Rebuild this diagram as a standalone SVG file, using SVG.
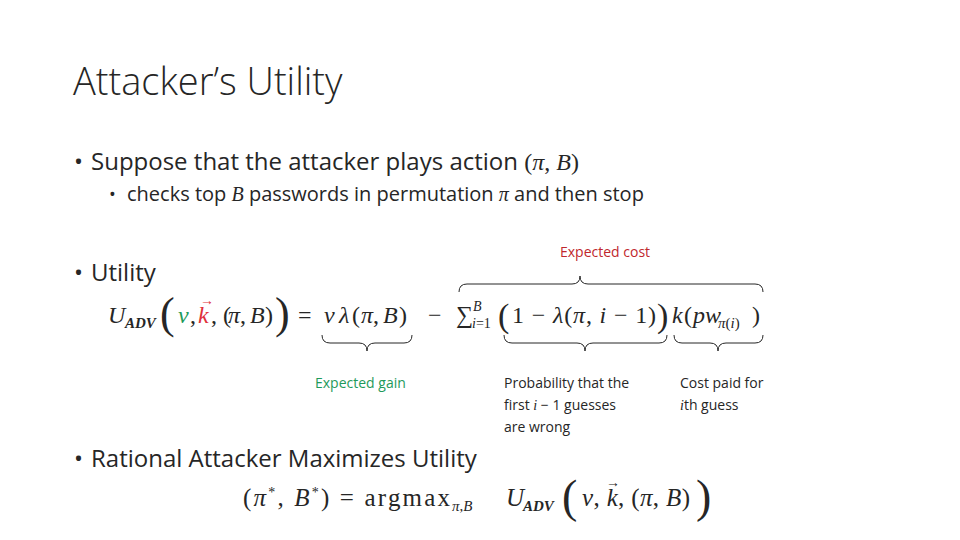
<svg xmlns="http://www.w3.org/2000/svg" width="960" height="540" viewBox="0 0 960 540">
<style>
.s{font-family:"Open Sans","Liberation Sans",sans-serif;fill:#262626}
.m{font-family:"Liberation Serif",serif;font-style:italic;fill:#262626}
.r{font-family:"Liberation Serif",serif;fill:#262626}
.b{fill:none;stroke:#262626;stroke-width:1}
.l{font-family:"Open Sans","Liberation Sans",sans-serif;font-size:14px;fill:#262626}
</style>
<rect width="960" height="540" fill="#fff"/>
<text class="s" x="73" y="95" style="font-size:38px;font-weight:300">Attacker’s Utility</text>
<text class="s" x="74" y="170" style="font-size:24px">•</text>
<text class="s" x="91" y="170" style="font-size:24px">Suppose that the attacker plays action <tspan class="r">(</tspan><tspan class="m">π</tspan><tspan class="r">, </tspan><tspan class="m">B</tspan><tspan class="r">)</tspan></text>
<text class="s" x="109" y="201" style="font-size:18px">•</text>
<text class="s" x="127" y="201" style="font-size:20px">checks top <tspan class="m">B</tspan> passwords in permutation <tspan class="m">π</tspan> and then stop</text>
<text class="s" x="74" y="281" style="font-size:24px">•</text>
<text class="s" x="91" y="281" style="font-size:24px">Utility</text>
<g style="font-size:24px">
<text class="m" x="108" y="323">U</text>
<text class="m" x="125" y="328" style="font-size:15px;font-weight:bold">ADV</text>
<text class="r" x="160" y="328" style="font-size:44px">(</text>
<text class="m" x="178" y="323" style="fill:#1e9a5a">v</text>
<text class="r" x="190" y="323">,</text>
<text class="m" x="198" y="323" style="fill:#e0303a">k</text>
<text class="r" x="200" y="305" style="font-size:14px;fill:#e0303a">→</text>
<text class="r" x="211" y="323">, (</text>
<text class="m" x="228" y="323">π</text>
<text class="r" x="240" y="323">,</text>
<text class="m" x="250" y="323">B</text>
<text class="r" x="265" y="323">)</text>
<text class="r" x="275" y="328" style="font-size:44px">)</text>
<text class="r" x="298" y="323">=</text>
<text class="m" x="324" y="323">v</text>
<text class="m" x="339" y="323">λ</text>
<text class="r" x="352" y="323">(</text>
<text class="m" x="361" y="323">π</text>
<text class="r" x="373" y="323">,</text>
<text class="m" x="383" y="323">B</text>
<text class="r" x="399" y="323">)</text>
<text class="r" x="428" y="323">−</text>
<text class="r" x="456" y="323">∑</text>
<text class="m" x="473" y="311" style="font-size:14px">B</text>
<text x="472" y="328"><tspan class="m" style="font-size:14px">i</tspan><tspan class="r" style="font-size:14px">=1</tspan></text>
<text class="r" x="498" y="327" style="font-size:34px">(</text>
<text x="512" y="323" textLength="144" lengthAdjust="spacing"><tspan class="r">1 − </tspan><tspan class="m">λ</tspan><tspan class="r">(</tspan><tspan class="m">π</tspan><tspan class="r">, </tspan><tspan class="m">i</tspan><tspan class="r"> − 1)</tspan></text>
<text class="r" x="657" y="327" style="font-size:34px">)</text>
<text class="m" x="672" y="323">k</text>
<text class="r" x="684" y="323">(</text>
<text class="m" x="693" y="323">pw</text>
<text x="718" y="328"><tspan class="m" style="font-size:15px">π</tspan><tspan class="r" style="font-size:15px">(</tspan><tspan class="m" style="font-size:15px">i</tspan><tspan class="r" style="font-size:15px">)</tspan></text>
<text class="r" x="752" y="323">)</text>
</g>
<path class="b" d="M459,292 Q459,284 467,284 L572,284 Q580,284 580,276 Q580,284 588,284 L755,284 Q763,284 763,292"/>
<path class="b" d="M322,335 Q322,343 330,343 L359,343 Q367,343 367,351 Q367,343 375,343 L404,343 Q412,343 412,335"/>
<path class="b" d="M504,335 Q504,343 512,343 L577,343 Q585,343 585,351 Q585,343 593,343 L659,343 Q667,343 667,335"/>
<path class="b" d="M674,335 Q674,343 682,343 L710,343 Q718,343 718,351 Q718,343 726,343 L755,343 Q763,343 763,335"/>
<text class="l" x="560" y="257" style="fill:#c0272d">Expected cost</text>
<text class="l" x="315" y="388" style="fill:#1e9a5a">Expected gain</text>
<text class="l" x="504" y="388">Probability that the</text>
<text class="l" x="504" y="410">first <tspan class="m">i</tspan> − 1 guesses</text>
<text class="l" x="504" y="432">are wrong</text>
<text class="l" x="680" y="388">Cost paid for</text>
<text class="l" x="680" y="410"><tspan class="m">i</tspan>th guess</text>
<text class="s" x="74" y="467" style="font-size:24px">•</text>
<text class="s" x="91" y="467" style="font-size:24px">Rational Attacker Maximizes Utility</text>
<g style="font-size:25px">
<text x="243" y="506" textLength="207" lengthAdjust="spacing"><tspan class="r">(</tspan><tspan class="m">π</tspan><tspan class="r" style="font-size:14px" dy="-9">*</tspan><tspan class="r" dy="9">, </tspan><tspan class="m">B</tspan><tspan class="r" style="font-size:14px" dy="-9">*</tspan><tspan class="r" dy="9">) = argmax</tspan></text>
<text x="452" y="511"><tspan class="m" style="font-size:15px">π</tspan><tspan class="r" style="font-size:15px">,</tspan><tspan class="m" style="font-size:15px">B</tspan></text>
<text class="m" x="506" y="506">U</text>
<text class="m" x="523" y="511" style="font-size:15px;font-weight:bold">ADV</text>
<text class="r" x="562" y="512" style="font-size:46px">(</text>
<text x="582" y="506" textLength="108" lengthAdjust="spacing"><tspan class="m">v</tspan><tspan class="r">, </tspan><tspan class="m">k</tspan><tspan class="r">, (</tspan><tspan class="m">π</tspan><tspan class="r">, </tspan><tspan class="m">B</tspan><tspan class="r">)</tspan></text>
<text class="r" x="606" y="487" style="font-size:14px">→</text>
<text class="r" x="696" y="512" style="font-size:46px">)</text>
</g>
</svg>
